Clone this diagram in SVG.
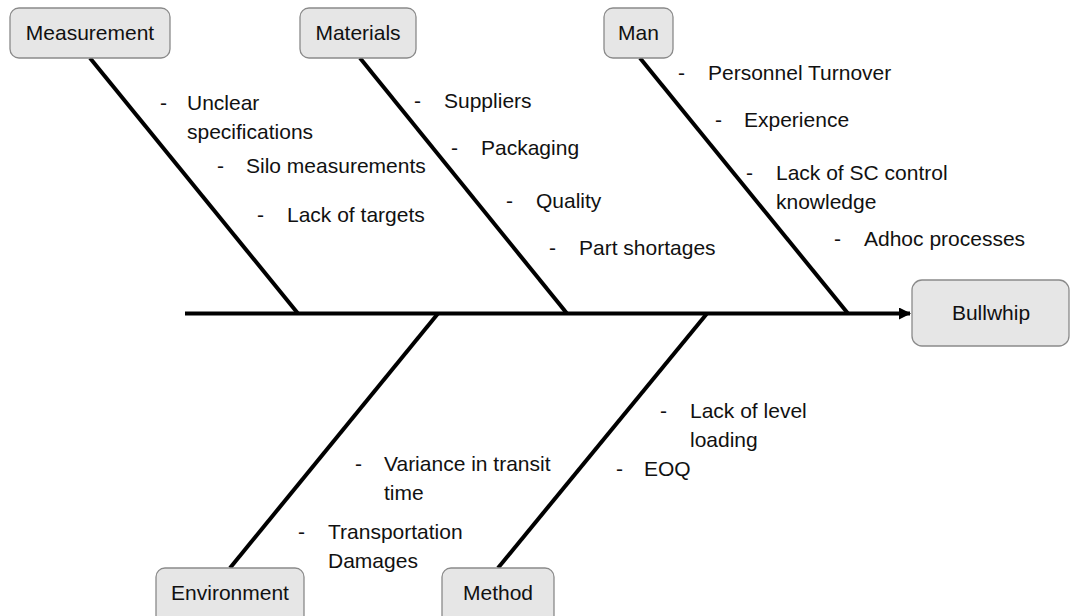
<svg xmlns="http://www.w3.org/2000/svg" width="1070" height="616" viewBox="0 0 1070 616">
  <defs>
    <style>
      .box { fill: #e6e6e6; stroke: #8a8a8a; stroke-width: 1.3; }
      .lbl { font-family: "Liberation Sans", Arial, sans-serif; font-size: 21px; fill: #111; }
      .mid { text-anchor: middle; }
      .bone { stroke: #000; stroke-width: 4; fill: none; }
    </style>
    <marker id="head" markerWidth="12" markerHeight="12" refX="11" refY="6" orient="auto" markerUnits="userSpaceOnUse">
      <path d="M0,0 L12,6 L0,12 Z" fill="#000"/>
    </marker>
  </defs>
  <rect width="1070" height="616" fill="#fff"/>

  <!-- spine and bones -->
  <g id="connectors">
    <line class="bone" x1="185" y1="313.5" x2="910" y2="313.5" marker-end="url(#head)"/>
    <line class="bone" x1="90" y1="58" x2="298" y2="313.5"/>
    <line class="bone" x1="360" y1="58" x2="567" y2="313.5"/>
    <line class="bone" x1="640" y1="58" x2="848" y2="313.5"/>
    <line class="bone" x1="438" y1="313.5" x2="230" y2="568"/>
    <line class="bone" x1="707" y1="313.5" x2="498" y2="568"/>
  </g>

  <!-- category boxes -->
  <g id="measurement">
    <rect class="box" x="10" y="8" width="160" height="50" rx="9"/>
    <text class="lbl mid" x="90" y="40">Measurement</text>
  </g>
  <g id="materials">
    <rect class="box" x="300" y="8" width="116" height="50" rx="9"/>
    <text class="lbl mid" x="358" y="40">Materials</text>
  </g>
  <g id="man">
    <rect class="box" x="604" y="8" width="69" height="50" rx="9"/>
    <text class="lbl mid" x="638.5" y="40">Man</text>
  </g>
  <g id="bullwhip">
    <rect class="box" x="912" y="280" width="157" height="66" rx="10"/>
    <text class="lbl mid" x="991" y="320">Bullwhip</text>
  </g>
  <g id="environment">
    <rect class="box" x="156" y="568" width="148" height="60" rx="9"/>
    <text class="lbl mid" x="230" y="600">Environment</text>
  </g>
  <g id="method">
    <rect class="box" x="442" y="568" width="112" height="60" rx="9"/>
    <text class="lbl mid" x="498" y="600">Method</text>
  </g>

  <!-- cause items -->
  <g id="measurement-causes" class="lbl">
    <text class="lbl" x="160" y="110">-</text>
    <text class="lbl" x="187" y="110">Unclear</text>
    <text class="lbl" x="187" y="139">specifications</text>
    <text class="lbl" x="217" y="173">-</text>
    <text class="lbl" x="246" y="173">Silo measurements</text>
    <text class="lbl" x="257" y="222">-</text>
    <text class="lbl" x="287" y="222">Lack of targets</text>
  </g>
  <g id="materials-causes">
    <text class="lbl" x="414" y="108">-</text>
    <text class="lbl" x="444" y="108">Suppliers</text>
    <text class="lbl" x="451" y="155">-</text>
    <text class="lbl" x="481" y="155">Packaging</text>
    <text class="lbl" x="506" y="208">-</text>
    <text class="lbl" x="536" y="208">Quality</text>
    <text class="lbl" x="549" y="255">-</text>
    <text class="lbl" x="579" y="255">Part shortages</text>
  </g>
  <g id="man-causes">
    <text class="lbl" x="678" y="80">-</text>
    <text class="lbl" x="708" y="80">Personnel Turnover</text>
    <text class="lbl" x="715" y="127">-</text>
    <text class="lbl" x="744" y="127">Experience</text>
    <text class="lbl" x="746" y="180">-</text>
    <text class="lbl" x="776" y="180">Lack of SC control</text>
    <text class="lbl" x="776" y="209">knowledge</text>
    <text class="lbl" x="834" y="246">-</text>
    <text class="lbl" x="864" y="246">Adhoc processes</text>
  </g>
  <g id="environment-causes">
    <text class="lbl" x="355" y="471">-</text>
    <text class="lbl" x="384" y="471">Variance in transit</text>
    <text class="lbl" x="384" y="500">time</text>
    <text class="lbl" x="298" y="539">-</text>
    <text class="lbl" x="328" y="539">Transportation</text>
    <text class="lbl" x="328" y="568">Damages</text>
  </g>
  <g id="method-causes">
    <text class="lbl" x="660" y="418">-</text>
    <text class="lbl" x="690" y="418">Lack of level</text>
    <text class="lbl" x="690" y="447">loading</text>
    <text class="lbl" x="616" y="476">-</text>
    <text class="lbl" x="644" y="476">EOQ</text>
  </g>
</svg>
